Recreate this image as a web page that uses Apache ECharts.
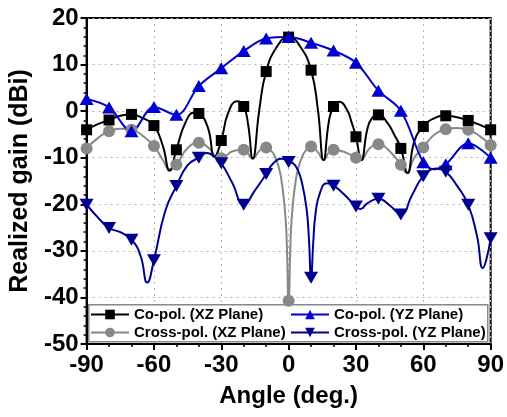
<!DOCTYPE html>
<html>
<head>
<meta charset="utf-8">
<script src="https://cdn.jsdelivr.net/npm/echarts@6.0.0/dist/echarts.min.js"></script>
<style>
  html, body { margin: 0; padding: 0; background: #fff; }
  #chart { width: 507px; height: 417px; }
</style>
</head>
<body>
<div id="chart"></div>
<script>
// values; markers sit on the 10 deg points
const coXzAngle = [-90, -85, -80, -75, -70, -65, -60, -56, -53, -50, -46, -42, -40, -36, -33, -30, -27, -23, -20, -18, -16, -13, -10, -5, 0, 5, 10, 13, 15.6, 18, 20, 22.5, 26, 28, 30, 32.4, 35, 37, 40, 44, 47, 50, 53, 56, 60, 65, 70, 75, 80, 85, 90];
const coXzGain = [-4.0, -2.8, -1.9, -1.0, -0.7, -1.5, -3.1, -7.5, -12.8, -8.3, -2.5, -0.3, -0.5, -3.5, -9.8, -6.3, -0.5, 2.1, 1.0, -3.0, -10.2, 0.5, 8.5, 14.0, 15.9, 14.0, 8.8, 0.5, -10.5, -2.0, 1.0, 2.0, 0.3, -2.3, -5.5, -10.5, -4.0, -1.6, -0.8, -2.5, -5.0, -8.0, -13.3, -6.5, -3.3, -1.5, -1.0, -1.3, -2.0, -2.9, -4.0];

const crossXzAngle = [-90, -85, -80, -75, -70, -65, -60, -56, -53, -50, -45, -40, -35, -32, -30, -25, -20, -16, -13, -10, -8, -6, -4, -3, -2, -1, 0, 1, 2, 3, 4, 6, 8, 10, 13, 15.6, 18, 20, 25, 30, 32, 36, 40, 45, 50, 52.5, 56, 60, 65, 70, 75, 80, 85, 90];
const crossXzGain = [-8.0, -5.8, -4.3, -3.8, -4.0, -5.3, -7.5, -10.5, -12.5, -11.5, -7.9, -6.8, -8.2, -10.0, -10.1, -8.6, -8.3, -10.1, -8.5, -7.8, -8.4, -9.8, -12.8, -15.5, -19.5, -26, -40.7, -26, -19.5, -15.5, -12.8, -9.8, -8.2, -7.6, -8.8, -10.5, -8.8, -8.3, -8.8, -10.0, -10.5, -8.0, -7.1, -8.6, -11.5, -13.3, -10.0, -7.8, -5.0, -3.9, -3.6, -4.0, -5.3, -7.3];

const coYzAngle = [-90, -80, -70, -60, -50, -40, -30, -20, -10, 0, 10, 20, 30, 40, 50, 60, 65, 70, 80, 90];
const coYzGain = [2.6, 0.8, -4.3, 0.9, -0.8, 5.4, 9.2, 12.9, 15.6, 15.9, 14.7, 13.0, 10.4, 4.4, 0.1, -11.0, -12.5, -11.4, -6.9, -10.0];

const crossYzAngle = [-90, -85, -80, -75, -70, -66, -63, -60, -55, -50, -45, -40, -36.5, -33, -30, -25, -20, -15, -10, -7, -3, 0, 2, 4, 6, 8, 9, 10, 11, 12, 14, 17, 20, 25, 30, 32, 35, 40, 45, 50, 55, 60, 66, 70, 75, 80, 84, 86.5, 88, 90];
const crossYzGain = [-20.1, -22.8, -25.1, -26.0, -27.6, -31, -36.8, -32.0, -21.5, -16.1, -11.6, -10.0, -9.0, -9.8, -11.2, -15.5, -20.1, -17.0, -13.5, -11.3, -10.2, -10.9, -11.2, -12.5, -15.5, -21, -27, -35.8, -28, -22, -17.5, -15.5, -16.0, -18.0, -20.5, -21.0, -19.8, -18.8, -20.2, -22.2, -18.0, -14.0, -12.3, -13.0, -16.0, -20.1, -27.0, -33.7, -32, -27.3];

const yTicks = [-50, -40, -30, -20, -10, 0, 10, 20];
const xTicks = [-90, -60, -30, 0, 30, 60, 90];

const font = 'Arial, "Liberation Sans", sans-serif';
const downTri = 'path://M0,0 L12,0 L6,11 Z';

function points(angles, gains) {
  return angles.map((a, i) => {
    const item = { value: [a, gains[i]] };
    if (a % 10 !== 0) item.symbol = 'none';
    return item;
  });
}

function curve(name, color, symbol, size, angles, gains, smooth) {
  return {
    name: name,
    type: 'line',
    data: points(angles, gains),
    symbol: symbol,
    symbolSize: size,
    smooth: smooth,
    lineStyle: { color: color, width: 2 },
    itemStyle: { color: color },
    animation: false
  };
}

const legendText = { fontSize: 15, fontWeight: 'bold', fontFamily: font, color: '#000', lineHeight: 15 };
const gridLine = { show: true, lineStyle: { color: '#b4b4b4', type: [2, 4], width: 1 } };

const myChart = echarts.init(document.getElementById('chart'));
myChart.setOption({
  backgroundColor: '#fff',
  grid: {
    left: 85, right: 15, top: 18, bottom: 73,
    show: true, borderColor: '#000', borderWidth: 2
  },
  xAxis: {
    type: 'value',
    min: xTicks[0], max: xTicks[xTicks.length - 1], interval: 30,
    name: 'Angle (deg.)',
    nameLocation: 'middle',
    nameGap: 40,
    nameTextStyle: { fontSize: 24, fontWeight: 'bold', fontFamily: font, color: '#000' },
    axisLine: { onZero: false, lineStyle: { color: '#000', width: 2 } },
    axisTick: { length: 6, lineStyle: { width: 2 } },
    minorTick: { show: true, splitNumber: 3, length: 3, lineStyle: { color: '#000', width: 1.5 } },
    axisLabel: { fontSize: 24, fontWeight: 'bold', fontFamily: font, color: '#000', margin: 9 },
    splitLine: gridLine
  },
  yAxis: {
    type: 'value',
    min: yTicks[0], max: yTicks[yTicks.length - 1], interval: 10,
    name: 'Realized gain (dBi)',
    nameLocation: 'middle',
    nameGap: 50,
    nameTextStyle: { fontSize: 25, fontWeight: 'bold', fontFamily: font, color: '#000' },
    axisLine: { show: true, onZero: false, lineStyle: { color: '#000', width: 2 } },
    axisTick: { show: true, length: 6, lineStyle: { width: 2 } },
    minorTick: { show: true, splitNumber: 5, length: 3, lineStyle: { color: '#000', width: 1.5 } },
    axisLabel: { fontSize: 24, fontWeight: 'bold', fontFamily: font, color: '#000', margin: 8 },
    splitLine: gridLine
  },
  legend: [
    {
      data: ['Co-pol. (XZ Plane)', 'Cross-pol. (XZ Plane)'],
      orient: 'vertical', left: 90, top: 307, padding: 0,
      itemWidth: 38, itemHeight: 12, itemGap: 3,
      textStyle: legendText
    },
    {
      data: ['Co-pol. (YZ Plane)', 'Cross-pol. (YZ Plane)'],
      orient: 'vertical', left: 290, top: 307, padding: 0,
      itemWidth: 38, itemHeight: 12, itemGap: 3,
      textStyle: legendText
    }
  ],
  graphic: [{
    type: 'rect', left: 88, top: 304, z: 3,
    shape: { width: 399, height: 37 },
    style: { fill: '#fff', stroke: '#888', lineWidth: 1.5 }
  }],
  series: [
    curve('Cross-pol. (XZ Plane)', '#888888', 'circle', 12, crossXzAngle, crossXzGain, 0.5),
    curve('Co-pol. (XZ Plane)', '#000000', 'rect', 11, coXzAngle, coXzGain, 0.5),
    curve('Co-pol. (YZ Plane)', '#0000d0', 'triangle', [14, 12], coYzAngle, coYzGain, 0.35),
    curve('Cross-pol. (YZ Plane)', '#000090', downTri, [14, 12], crossYzAngle, crossYzGain, 0.5)
  ]
});
</script>
</body>
</html>
